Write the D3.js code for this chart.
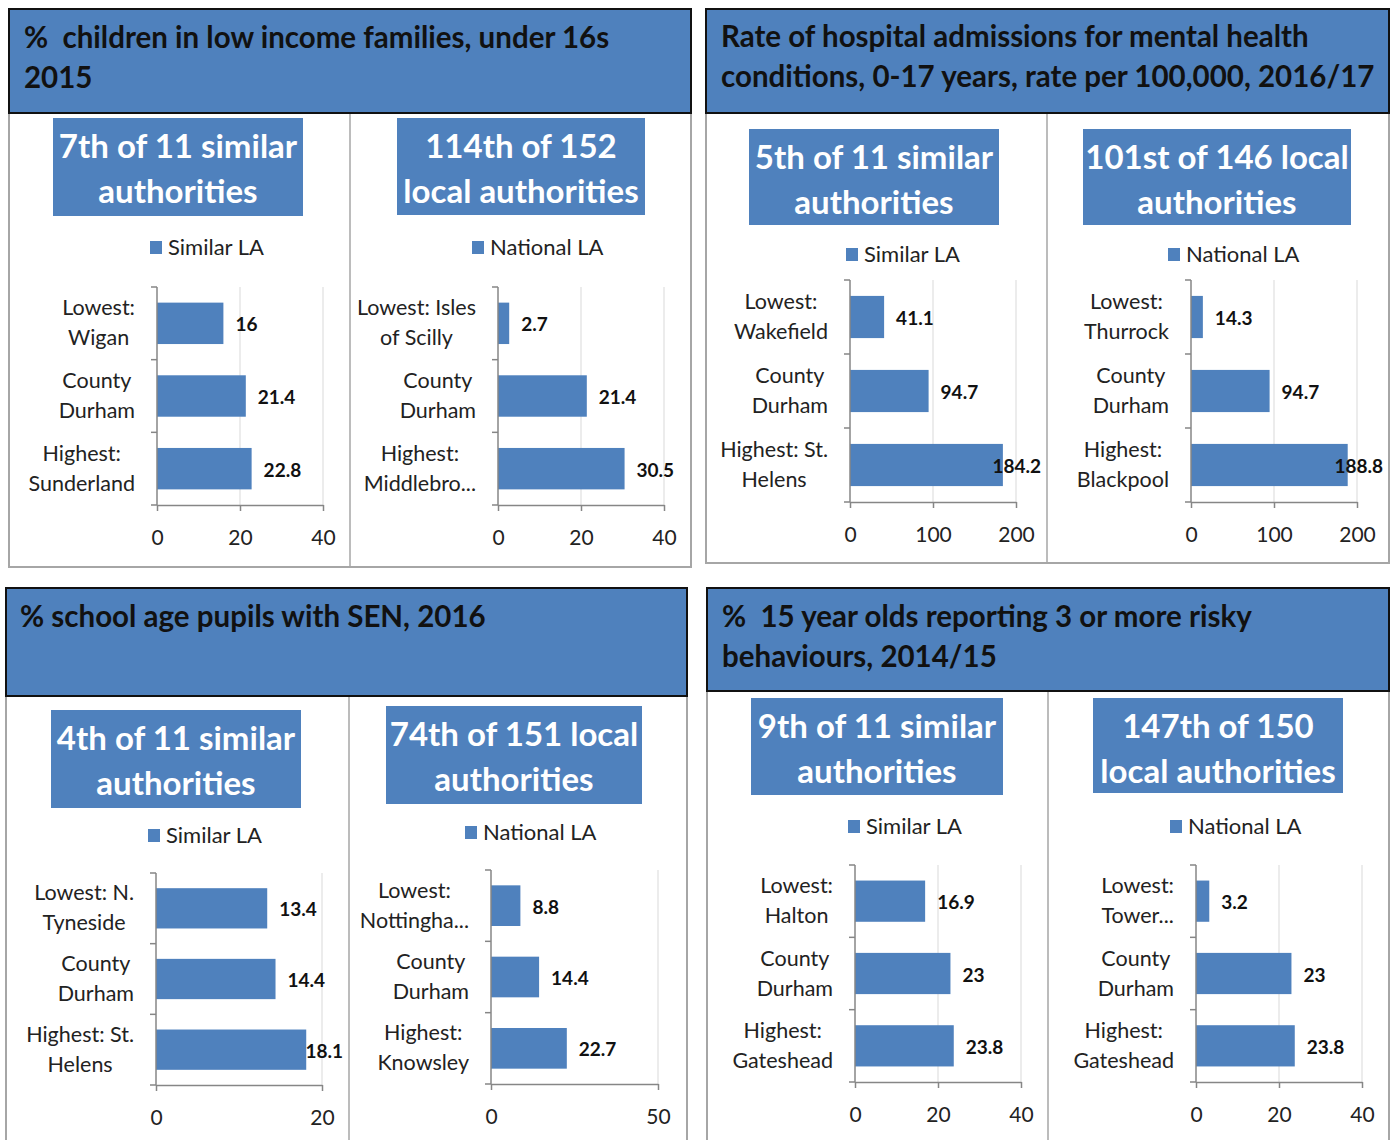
<!DOCTYPE html>
<html>
<head>
<meta charset="utf-8">
<script src="https://cdn.jsdelivr.net/npm/d3@7"></script>
<style>
  body { margin: 0; background: #fff; }
  text { font-family: Lato, "Open Sans", sans-serif; }
</style>
</head>
<body>
<script>
// chart data
const titles = [
    ["%  children in low income families, under 16s", "2015"],
    ["Rate of hospital admissions for mental health", "conditions, 0-17 years, rate per 100,000, 2016/17"],
    ["% school age pupils with SEN, 2016"],
    ["%  15 year olds reporting 3 or more risky", "behaviours, 2014/15"]
];

const ranks = [
    ["7th of 11 similar", "authorities"], ["114th of 152", "local authorities"],
    ["5th of 11 similar", "authorities"], ["101st of 146 local", "authorities"],
    ["4th of 11 similar", "authorities"], ["74th of 151 local", "authorities"],
    ["9th of 11 similar", "authorities"], ["147th of 150", "local authorities"]
];

const legendLabels = ["Similar LA", "National LA"];

const categories = [
    ["Lowest:\nWigan", "County\nDurham", "Highest:\nSunderland"],
    ["Lowest: Isles\nof Scilly", "County\nDurham", "Highest:\nMiddlebro..."],
    ["Lowest:\nWakefield", "County\nDurham", "Highest: St.\nHelens"],
    ["Lowest:\nThurrock", "County\nDurham", "Highest:\nBlackpool"],
    ["Lowest: N.\nTyneside", "County\nDurham", "Highest: St.\nHelens"],
    ["Lowest:\nNottingha...", "County\nDurham", "Highest:\nKnowsley"],
    ["Lowest:\nHalton", "County\nDurham", "Highest:\nGateshead"],
    ["Lowest:\nTower...", "County\nDurham", "Highest:\nGateshead"]
];

const values = [
    [16, 21.4, 22.8], [2.7, 21.4, 30.5],
    [41.1, 94.7, 184.2], [14.3, 94.7, 188.8],
    [13.4, 14.4, 18.1], [8.8, 14.4, 22.7],
    [16.9, 23, 23.8], [3.2, 23, 23.8]
];

const tickValues = [
    [0, 20, 40], [0, 20, 40],
    [0, 100, 200], [0, 100, 200],
    [0, 20], [0, 50],
    [0, 20, 40], [0, 20, 40]
];

// layout of the four boxes
const quads = [
    { header: [9, 9, 682, 104], panel: [9, 113, 682, 454], divider: 350, tx: 24, ty: [48, 88],
      subs: [
        { rank: [53, 118, 250, 98], legend: [150, 241], plot: [157, 287, 166, 218] },
        { rank: [397, 118, 248, 97], legend: [472, 241], plot: [498, 287, 166, 218] }] },
    { header: [706, 9, 683, 104], panel: [706, 113, 683, 450], divider: 1047, tx: 721, ty: [47, 87],
      subs: [
        { rank: [749, 129, 250, 96], legend: [846, 248], plot: [850, 280, 166, 222] },
        { rank: [1083, 129, 268, 96], legend: [1168, 248], plot: [1191, 280, 166, 222] }] },
    { header: [6, 588, 681, 108], panel: [6, 696, 681, 446], divider: 349, tx: 20, ty: [627],
      subs: [
        { rank: [51, 710, 250, 98], legend: [148, 829], plot: [156, 873, 166, 212] },
        { rank: [386, 706, 256, 98], legend: [465, 826], plot: [491, 870, 167, 214] }] },
    { header: [707, 588, 682, 103], panel: [707, 691, 682, 451], divider: 1048, tx: 722, ty: [627, 667],
      subs: [
        { rank: [751, 698, 252, 97], legend: [848, 820], plot: [855, 865, 166, 217] },
        { rank: [1093, 698, 250, 95], legend: [1170, 820], plot: [1196, 865, 166, 217] }] }
];

const blue = "#4f81bd";

const svg = d3.select("body").append("svg")
    .attr("width", 1396)
    .attr("height", 1140);

quads.forEach(function(q, qi) {
    // panel outline and divider
    svg.append("rect")
        .attr("x", q.panel[0]).attr("y", q.panel[1])
        .attr("width", q.panel[2]).attr("height", q.panel[3])
        .attr("fill", "#fff").attr("stroke", "#a6a6a6").attr("stroke-width", 2);
    svg.append("line")
        .attr("x1", q.divider).attr("x2", q.divider)
        .attr("y1", q.panel[1]).attr("y2", q.panel[1] + q.panel[3])
        .attr("stroke", "#a6a6a6").attr("stroke-width", 1.5);

    // header box
    svg.append("rect")
        .attr("x", q.header[0]).attr("y", q.header[1])
        .attr("width", q.header[2]).attr("height", q.header[3])
        .attr("fill", blue).attr("stroke", "#111").attr("stroke-width", 2);
    titles[qi].forEach(function(line, li) {
        svg.append("text")
            .attr("x", q.tx).attr("y", q.ty[li])
            .style("font-size", "29.5px").style("font-weight", "bold")
            .style("white-space", "pre")
            .attr("fill", "#111")
            .text(line);
    });

    const subRights = [q.divider, q.panel[0] + q.panel[2]];

    q.subs.forEach(function(s, si) {
        const ci = qi * 2 + si;

        // rank box
        svg.append("rect")
            .attr("x", s.rank[0]).attr("y", s.rank[1])
            .attr("width", s.rank[2]).attr("height", s.rank[3])
            .attr("fill", blue);
        ranks[ci].forEach(function(line, li) {
            svg.append("text")
                .attr("x", s.rank[0] + s.rank[2] / 2)
                .attr("y", s.rank[1] + 40 + li * 45)
                .style("text-anchor", "middle")
                .style("font-size", "33px").style("font-weight", "bold")
                .attr("fill", "#fff")
                .text(line);
        });

        // legend
        svg.append("rect")
            .attr("x", s.legend[0]).attr("y", s.legend[1])
            .attr("width", 12).attr("height", 13)
            .attr("fill", blue);
        svg.append("text")
            .attr("x", s.legend[0] + 18).attr("y", s.legend[1] + 14)
            .style("font-size", "22px").attr("fill", "#222")
            .text(legendLabels[si]);

        // bar chart
        const p = s.plot;
        const g = svg.append("g").attr("transform", "translate(" + p[0] + "," + p[1] + ")");
        const ticks = tickValues[ci];

        const x = d3.scaleLinear()
            .domain([0, ticks[ticks.length - 1]])
            .range([0, p[2]]);
        const y = d3.scaleBand()
            .domain(categories[ci])
            .range([0, p[3]])
            .paddingInner(0.43).paddingOuter(0.215);

        // gridlines
        g.selectAll(".grid")
            .data(ticks.slice(1))
            .enter().append("line")
            .attr("x1", d => x(d)).attr("x2", d => x(d))
            .attr("y1", 0).attr("y2", p[3])
            .attr("stroke", "#d9d9d9").attr("stroke-width", 1);

        // bars
        const data = categories[ci].map((c, i) => ({ cat: c, val: values[ci][i] }));
        g.selectAll(".bar")
            .data(data)
            .enter().append("rect")
            .attr("x", 0)
            .attr("y", d => y(d.cat))
            .attr("width", d => x(d.val))
            .attr("height", y.bandwidth())
            .attr("fill", blue);

        // x axis
        const xAxis = g.append("g")
            .attr("transform", "translate(0," + p[3] + ")")
            .call(d3.axisBottom(x).tickValues(ticks).tickSize(6).tickSizeOuter(0).tickPadding(19));
        xAxis.select(".domain").attr("stroke", "#868686").attr("stroke-width", 1.5);
        xAxis.selectAll(".tick line").attr("stroke", "#868686").attr("stroke-width", 1.5);
        xAxis.selectAll(".tick text")
            .style("font-family", "Lato, sans-serif").style("font-size", "21px")
            .attr("fill", "#222");

        // y axis: line with ticks at band boundaries
        g.append("line")
            .attr("x1", 0).attr("x2", 0).attr("y1", 0).attr("y2", p[3])
            .attr("stroke", "#868686").attr("stroke-width", 1.5);
        const bounds = d3.range(categories[ci].length + 1).map(i => i * p[3] / categories[ci].length);
        g.selectAll(".ytick")
            .data(bounds)
            .enter().append("line")
            .attr("x1", -6).attr("x2", 0)
            .attr("y1", d => d).attr("y2", d => d)
            .attr("stroke", "#868686").attr("stroke-width", 1.5);

        // category labels, wrapped and centred as a block
        data.forEach(function(d) {
            const lines = d.cat.split("\n");
            const cy = y(d.cat) + y.bandwidth() / 2;
            const t = g.append("text")
                .style("font-size", "21.5px").attr("fill", "#222")
                .style("text-anchor", "middle");
            lines.forEach(function(l, li) {
                t.append("tspan")
                    .attr("y", cy + (li - (lines.length - 1) / 2) * 30 + 7)
                    .text(l);
            });
            let maxW = 0;
            t.selectAll("tspan").each(function() { maxW = Math.max(maxW, this.getComputedTextLength()); });
            t.selectAll("tspan").attr("x", -22 - maxW / 2);
        });

        // value labels
        const limit = subRights[si] - 6 - p[0];
        data.forEach(function(d) {
            const t = g.append("text")
                .attr("y", y(d.cat) + y.bandwidth() / 2 + 8)
                .style("font-size", "19px").style("font-weight", "bold")
                .attr("fill", "#111")
                .text(d.val);
            const w = t.node().getComputedTextLength();
            t.attr("x", Math.min(x(d.val) + 12, limit - w));
        });
    });
});
</script>
</body>
</html>
